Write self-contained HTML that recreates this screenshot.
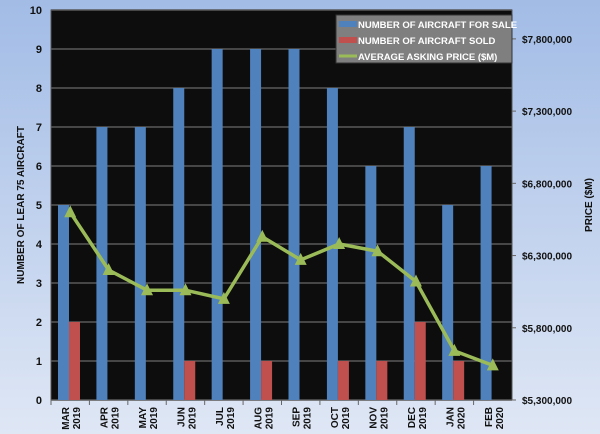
<!DOCTYPE html>
<html><head><meta charset="utf-8"><style>
body{margin:0;width:600px;height:434px;overflow:hidden;font-family:"Liberation Sans",sans-serif;}
#bg{position:absolute;left:0;top:0;width:600px;height:434px;background:linear-gradient(#a2bce6,#dfe7f5);}
svg text{font-family:"Liberation Sans",sans-serif;font-weight:bold;}
</style></head><body>
<div id="bg"></div>
<svg id="c" width="600" height="434" style="position:absolute;left:0;top:0"></svg>
<script>
const categories=[["MAR","2019"],["APR","2019"],["MAY","2019"],["JUN","2019"],["JUL","2019"],["AUG","2019"],["SEP","2019"],["OCT","2019"],["NOV","2019"],["DEC","2019"],["JAN","2020"],["FEB","2020"]];
const forSale=[5,7,7,8,9,9,9,8,6,7,5,6];
const sold=[2,0,0,1,0,1,0,1,1,2,1,0];
const price=[6600000,6200000,6060000,6060000,6000000,6430000,6270000,6380000,6330000,6120000,5640000,5540000];
const leftTicks=[0,1,2,3,4,5,6,7,8,9,10];
const rightTicks=[5300000,5800000,6300000,6800000,7300000,7800000];
const NS="http://www.w3.org/2000/svg";
const svg=document.getElementById('c');
const X0=51,X1=512,Y0=400,Y1=10;
const cw=(X1-X0)/categories.length;
function y(v){return Y0-(v/10)*(Y0-Y1);}
function yr(v){return Y0-(v-5300000)/2700000*(Y0-Y1);}
function mk(t,a){const e=document.createElementNS(NS,t);for(const k in a)e.setAttribute(k,a[k]);svg.appendChild(e);return e;}
let e=mk('rect',{x:X0,y:Y1,width:X1-X0,height:Y0-Y1,fill:'#0d0d0d',stroke:'#555'});

leftTicks.forEach(t=>{
 let g=mk('line',{x1:X0,x2:X1,y1:y(t),y2:y(t),stroke:'#5a5a5a','stroke-width':1.5});
 
 let l=mk('text',{x:42,y:y(t)+4,'font-size':11,'text-anchor':'end',fill:'#111'});l.textContent=t;
 
});
rightTicks.forEach(t=>{
 let l=mk('text',{x:522,y:yr(t)+4,'font-size':10,fill:'#111'});l.textContent='$'+t.toLocaleString('en-US');
 
 let m=mk('line',{x1:X1,x2:X1+4,y1:yr(t),y2:yr(t),stroke:'#666'});
 
});
categories.forEach((c,i)=>{
 const cx=X0+i*cw;
 let b=mk('rect',{x:cx+7,y:y(forSale[i]),width:11,height:Y0-y(forSale[i]),fill:'#4f81bd'});
 
 if(sold[i]>0){let r=mk('rect',{x:cx+18,y:y(sold[i]),width:11,height:Y0-y(sold[i]),fill:'#c0504d'});
 }
 let tk=mk('line',{x1:cx,x2:cx,y1:Y0,y2:Y0+5,stroke:'#666'});
 
 const mx=cx+cw/2;
 let t=mk('text',{transform:`translate(${mx-1},${Y0+7}) rotate(-90)`,'font-size':10,'text-anchor':'end',fill:'#111'});
 
 const s1=document.createElementNS(NS,'tspan');s1.setAttribute('x',0);s1.setAttribute('y',0);s1.textContent=c[0];t.appendChild(s1);
 const s2=document.createElementNS(NS,'tspan');s2.setAttribute('x',0);s2.setAttribute('y',11);s2.textContent=c[1];t.appendChild(s2);
});
let pts=price.map((p,i)=>[X0+i*cw+cw/2,yr(p)]);
let pl=mk('polyline',{points:pts.map(p=>p.join(',')).join(' '),fill:'none',stroke:'#9bbb59','stroke-width':3.5});

pts.forEach(p=>{let m=mk('polygon',{points:`${p[0]},${p[1]-7} ${p[0]-6},${p[1]+5} ${p[0]+6},${p[1]+5}`,fill:'#9bbb59'});
 });
let lt=mk('text',{transform:'translate(24,205) rotate(-90)','font-size':10,'text-anchor':'middle',fill:'#111'});lt.textContent='NUMBER OF LEAR 75 AIRCRAFT';

let rt=mk('text',{transform:'translate(592,205) rotate(-90)','font-size':10,'text-anchor':'middle',fill:'#111'});rt.textContent='PRICE ($M)';

let lg=mk('rect',{x:336,y:15,width:176,height:48,fill:'#7f7f7f',stroke:'#333'});

const leg=[['NUMBER OF AIRCRAFT FOR SALE','#4f81bd'],['NUMBER OF AIRCRAFT SOLD','#c0504d'],['AVERAGE ASKING PRICE ($M)','#9bbb59']];
leg.forEach((l,i)=>{const yy=24+i*16;
 let s;
 if(i<2){s=mk('rect',{x:339,y:yy-3,width:18,height:6,fill:l[1]});}
 else{s=mk('line',{x1:339,x2:357,y1:yy,y2:yy,stroke:l[1],'stroke-width':3});}
 
 let t=mk('text',{x:358,y:yy+4,'font-size':9.5,fill:'#fff'});t.textContent=l[0];
 
});
</script>
</body></html>
